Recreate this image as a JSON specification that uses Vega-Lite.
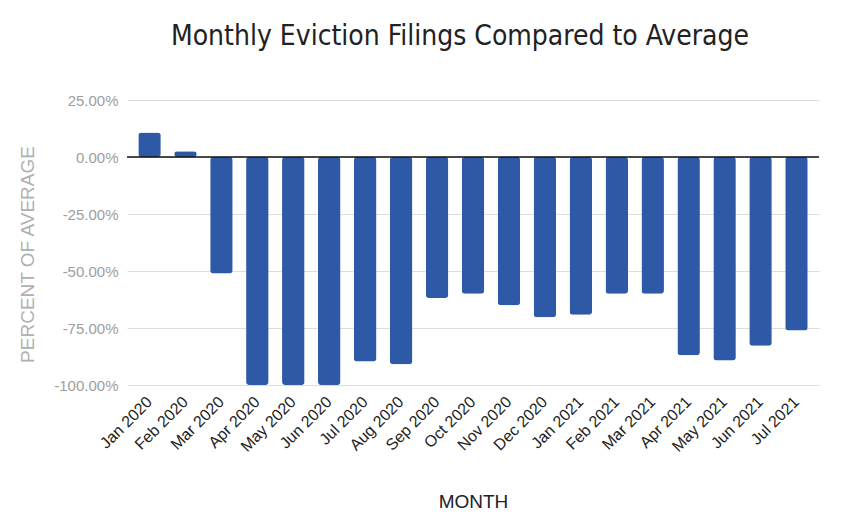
{
  "$schema": "https://vega.github.io/schema/vega-lite/v6.json",
  "width": 692,
  "height": 285,
  "autosize": "none",
  "padding": {"left": 127, "top": 100, "right": 31, "bottom": 146},
  "title": {
    "text": "Monthly Eviction Filings Compared to Average",
    "font": "DejaVu Sans Condensed",
    "fontSize": 28,
    "fontWeight": "normal",
    "color": "#222222",
    "anchor": "middle",
    "dx": -13,
    "offset": 42
  },
  "data": {
    "values": [
      {"Month": "Jan 2020", "Pct": 0.107},
      {"Month": "Feb 2020", "Pct": 0.025},
      {"Month": "Mar 2020", "Pct": -0.511},
      {"Month": "Apr 2020", "Pct": -1.0},
      {"Month": "May 2020", "Pct": -1.0},
      {"Month": "Jun 2020", "Pct": -1.0},
      {"Month": "Jul 2020", "Pct": -0.897},
      {"Month": "Aug 2020", "Pct": -0.909},
      {"Month": "Sep 2020", "Pct": -0.618},
      {"Month": "Oct 2020", "Pct": -0.600},
      {"Month": "Nov 2020", "Pct": -0.650},
      {"Month": "Dec 2020", "Pct": -0.703},
      {"Month": "Jan 2021", "Pct": -0.692},
      {"Month": "Feb 2021", "Pct": -0.600},
      {"Month": "Mar 2021", "Pct": -0.600},
      {"Month": "Apr 2021", "Pct": -0.869},
      {"Month": "May 2021", "Pct": -0.893},
      {"Month": "Jun 2021", "Pct": -0.828},
      {"Month": "Jul 2021", "Pct": -0.761}
    ]
  },
  "encoding": {
    "y": {
      "field": "Pct",
      "type": "quantitative",
      "title": "PERCENT OF AVERAGE",
      "scale": {"domain": [-1, 0.25], "nice": false},
      "axis": {
        "values": [-1, -0.75, -0.5, -0.25, 0, 0.25],
        "labelExpr": "replace(format(datum.value, '.2%'), '\u2212', '-')",
        "domain": false,
        "ticks": false,
        "grid": true,
        "gridColor": "#dddddd",
        "labelColor": "#9e9e9e",
        "labelFont": "Liberation Sans",
        "labelFontSize": 15,
        "labelPadding": 9,
        "titleFont": "Liberation Sans",
        "titleFontSize": 19,
        "titleFontWeight": "normal",
        "titleColor": "#b0b0b0",
        "titleX": -100,
        "titleY": 154,
        "titleAngle": -90,
        "titleAlign": "center",
        "titleBaseline": "middle"
      }
    }
  },
  "layer": [
    {
      "mark": {"type": "bar", "color": "#2E59A7", "cornerRadius": 3},
      "encoding": {
        "x": {
          "field": "Month",
          "type": "ordinal",
          "sort": null,
          "title": "MONTH",
          "scale": {"paddingInner": 0.374, "paddingOuter": 0.314},
          "axis": {
            "domain": false,
            "ticks": false,
            "labelAngle": -45,
            "labelAlign": "right",
            "labelBaseline": "middle",
            "labelColor": "#222222",
            "labelFont": "Liberation Sans",
            "labelFontSize": 16,
            "labelPadding": 14,
            "titleFont": "Liberation Sans",
            "titleFontSize": 19,
            "titleFontWeight": "normal",
            "titleColor": "#222222",
            "titlePadding": 38
          }
        }
      }
    },
    {
      "data": {"values": [{"z": 0}]},
      "mark": {"type": "rule", "color": "#111111", "strokeWidth": 1.3},
      "encoding": {"y": {"field": "z", "type": "quantitative"}}
    }
  ],
  "config": {"view": {"stroke": null}}
}
